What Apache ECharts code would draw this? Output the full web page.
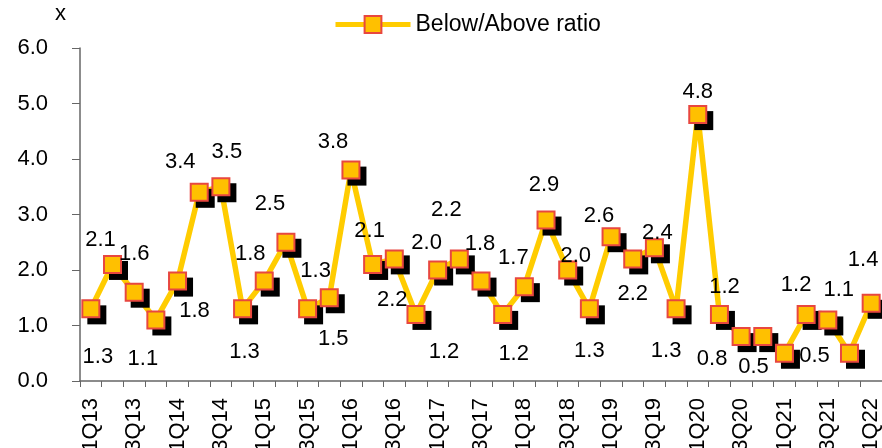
<!DOCTYPE html>
<html>
<head>
	<meta charset="utf-8">
	<title>Below/Above ratio</title>
	<script src="https://cdn.jsdelivr.net/npm/echarts@6/dist/echarts.min.js"></script>
</head>
<body style="margin:0;background:#fff;">
<div id="container" style="width: 882px;height: 448px;"></div>
<script type="text/javascript">
	// quarters on the x axis
	var quarters = ['1Q13','2Q13','3Q13','4Q13','1Q14','2Q14','3Q14','4Q14',
		'1Q15','2Q15','3Q15','4Q15','1Q16','2Q16','3Q16','4Q16',
		'1Q17','2Q17','3Q17','4Q17','1Q18','2Q18','3Q18','4Q18',
		'1Q19','2Q19','3Q19','4Q19','1Q20','2Q20','3Q20','4Q20',
		'1Q21','2Q21','3Q21','4Q21','1Q22'];
	// below/above ratio per quarter
	var ratio = [1.3, 2.1, 1.6, 1.1, 1.8, 3.4, 3.5, 1.3,
		1.8, 2.5, 1.3, 1.5, 3.8, 2.1, 2.2, 1.2,
		2.0, 2.2, 1.8, 1.2, 1.7, 2.9, 2.0, 1.3,
		2.6, 2.2, 2.4, 1.3, 4.8, 1.2, 0.8, 0.8,
		0.5, 1.2, 1.1, 0.5, 1.4];
	var yTicks = [0, 1, 2, 3, 4, 5, 6];

	// where each value label sits relative to its marker (px), null = not shown
	var labelShift = [[7,48],[-12,-25],[0,-38],[-13,39],[17,30],[-19,-30],[6,-35],[2,43],
		[-14,-27],[-16,-38],[8,-38],[4,41],[-18,-28],[-3,-34],[-2,41],[28,38],
		[-11,-27],[-13,-49],[-1,-37],[11,40],[-11,-29],[-2,-35],[8,-14],[0,42],
		[-12,-21],[0,35],[3,-15],[-10,42],[0,-23],[5,-27],[-29,22],null,
		[-31,14],[-10,-29],[11,-30],[-35,3],[-8,-43]];

	var font = 'Arial, "Liberation Sans", sans-serif';
	var markerStyle = { color: '#FFC000', borderColor: '#E8473F', borderWidth: 2 };

	var points = [];
	for (var i = 0; i < ratio.length; i++) {
		var s = labelShift[i];
		points.push({
			value: ratio[i],
			label: s ? { show: true, offset: s } : { show: false }
		});
	}

	var myChart = echarts.init(document.getElementById('container'), null, {renderer: 'canvas'});
	var option = {
		animation: false,
		backgroundColor: '#fff',
		grid: { left: 80, right: 0, top: 48, bottom: 67, outerBoundsMode: 'none', containLabel: false },
		legend: {
			top: 8,
			left: 328,
			itemWidth: 75,
			itemHeight: 21,
			itemGap: 5,
			lineStyle: { width: 5, color: '#FFCC00' },
			textStyle: { fontSize: 23, color: '#000', fontFamily: font },
			data: ['Below/Above ratio']
		},
		graphic: [{
			type: 'text', left: 55, top: 3,
			style: { text: 'x', fontSize: 22, fill: '#000', fontFamily: font }
		}],
		xAxis: {
			type: 'category',
			data: quarters,
			boundaryGap: true,
			axisLine: { lineStyle: { color: '#666', width: 1.5 } },
			axisTick: { show: true, interval: 0, length: 6, alignWithLabel: false, lineStyle: { color: '#666' } },
			axisLabel: { interval: 1, rotate: 90, margin: 17, fontSize: 22, color: '#000', fontFamily: font },
			splitLine: { show: false }
		},
		yAxis: {
			type: 'value',
			min: yTicks[0],
			max: yTicks[yTicks.length - 1],
			interval: 1,
			axisLine: { show: true, lineStyle: { color: '#666', width: 1.5 } },
			axisTick: { show: true, length: 8, lineStyle: { color: '#666' } },
			axisLabel: {
				margin: 32, fontSize: 22, color: '#000', fontFamily: font,
				formatter: function (v) { return v.toFixed(1); }
			},
			splitLine: { show: false }
		},
		series: [{
			// the line itself (also gives the legend its icon)
			name: 'Below/Above ratio',
			type: 'line',
			data: ratio,
			symbol: 'rect',
			showSymbol: false,
			lineStyle: { color: '#FFCC00', width: 5.5 },
			itemStyle: markerStyle,
			z: 2,
			silent: true
		}, {
			// black drop shadow behind each marker
			name: 'shadow',
			type: 'line',
			data: ratio,
			symbol: 'rect',
			symbolSize: 19,
			symbolOffset: [6, 6],
			showAllSymbol: true,
			lineStyle: { width: 0, opacity: 0 },
			itemStyle: { color: '#000' },
			z: 3,
			silent: true
		}, {
			name: 'markers',
			type: 'line',
			data: points,
			symbol: 'rect',
			symbolSize: 17,
			showAllSymbol: true,
			lineStyle: { width: 0, opacity: 0 },
			itemStyle: markerStyle,
			label: {
				show: true,
				position: 'inside',
				align: 'center',
				verticalAlign: 'middle',
				fontSize: 22,
				color: '#000',
				fontFamily: font,
				formatter: function (p) { return p.value.toFixed(1); }
			},
			z: 4,
			silent: true
		}]
	};
	myChart.setOption(option);
</script>
</body>
</html>
